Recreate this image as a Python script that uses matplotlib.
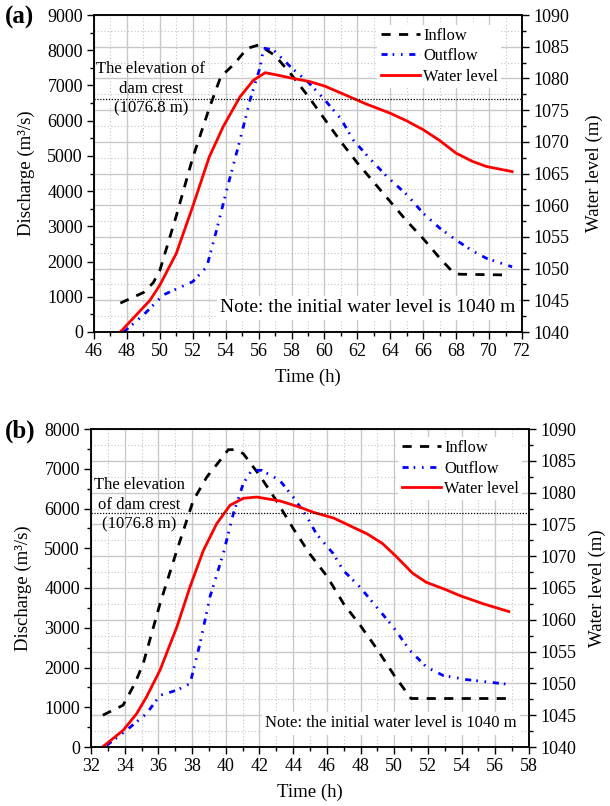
import matplotlib
matplotlib.use('Agg')
import matplotlib.pyplot as plt
from matplotlib.ticker import MultipleLocator

plt.rcParams['font.family'] = ['Liberation Serif', 'DejaVu Serif']

# ---------------- Panel (a) data ----------------
a_in_t = [47.6, 49.0, 49.6, 50.0, 51.0, 52.0, 53.0, 53.7, 54.5, 55.3, 56.0, 57.0, 58.0, 59.0,
          60.0, 61.0, 62.0, 63.0, 64.0, 65.0, 66.0, 67.0, 67.8, 68.2, 71.0]
a_in_q = [820, 1120, 1400, 1750, 3300, 4950, 6350, 7250, 7600, 8050, 8150, 7850, 7300, 6700,
          6050, 5400, 4800, 4250, 3700, 3150, 2650, 2100, 1700, 1640, 1620]

a_out_t = [47.8, 49.0, 50.2, 51.0, 52.0, 52.85, 53.45, 54.06, 54.87, 55.48, 56.1, 56.3, 56.9,
           58.0, 59.0, 60.0, 61.0, 61.75, 62.8, 63.8, 65.0, 66.0, 67.0, 68.0, 69.0, 69.85, 71.4]
a_out_q = [0, 480, 1050, 1220, 1430, 1850, 2900, 4030, 5450, 6590, 7530, 8060, 8010,
           7500, 7100, 6600, 6050, 5450, 4900, 4410, 3900, 3370, 2950, 2610, 2300, 2090, 1850]

a_wl_t = [47.6, 48.5, 49.4, 50.0, 51.0, 52.0, 53.0, 53.85, 54.87, 55.68, 56.4, 57.0, 57.9,
          59.1, 60.0, 61.35, 62.5, 64.0, 65.0, 66.0, 67.0, 68.0, 69.0, 69.85, 71.4]
a_wl_h = [1040.0, 1042.5, 1045.0, 1047.4, 1052.4, 1059.8, 1067.6, 1072.4, 1077.1, 1079.7,
          1080.9, 1080.6, 1080.1, 1079.5, 1078.8, 1077.3, 1076.0, 1074.5, 1073.3, 1071.9,
          1070.2, 1068.2, 1066.9, 1066.1, 1065.3]

# ---------------- Panel (b) data ----------------
b_in_t = [32.7, 33.9, 34.6, 35.1, 36.1, 37.1, 38.07, 38.87, 39.66, 40.15, 40.55, 41.04,
          42.0, 43.0, 44.0, 45.0, 46.0, 47.0, 48.0, 49.0, 50.0, 51.0, 56.8]
b_in_q = [800, 1050, 1595, 2100, 3610, 4950, 6200, 6790, 7210, 7480, 7480, 7380,
          6840, 6200, 5500, 4850, 4300, 3600, 3050, 2450, 1800, 1220, 1220]

b_out_t = [32.93, 34.1, 35.3, 36.1, 37.1, 37.88, 38.47, 39.06, 39.85, 40.45, 41.04, 41.54,
           42.13, 43.2, 44.0, 44.8, 45.4, 46.38, 46.97, 47.96, 49.94, 50.93, 51.92, 52.9,
           54.3, 56.77]
b_out_q = [40, 420, 840, 1300, 1430, 1595, 2600, 3774, 4865, 5870, 6630, 6960,
           6960, 6710, 6290, 5800, 5350, 4865, 4445, 4025, 3020, 2430, 2010, 1800,
           1695, 1577]

b_wl_t = [32.73, 33.9, 34.7, 35.3, 36.1, 37.1, 37.88, 38.67, 39.46, 40.25, 41.04, 41.83,
          43.2, 44.4, 45.2, 46.4, 47.2, 48.4, 49.3, 50.1, 51.1, 51.9, 53.0, 53.9, 55.3, 56.8]
b_wl_h = [1040.1, 1042.6, 1045.2, 1047.9, 1052.1, 1058.9, 1065.2, 1070.9, 1075.1, 1078.0,
          1079.1, 1079.3, 1078.7, 1077.7, 1076.9, 1076.0, 1075.0, 1073.5, 1072.0, 1070.0,
          1067.3, 1065.9, 1064.8, 1063.8, 1062.5, 1061.3]

dam_crest = 1076.8
labels = ['Inflow', 'Outflow', 'Water level']
note = 'Note: the initial water level is 1040 m'

fig = plt.figure(figsize=(6.1, 8.06), dpi=100)
W, H = 610, 806

GRID_MAJ = dict(color='#c8c8c8', lw=1.0, ls='-')
GRID_MIN = dict(color='#c4c4c4', lw=0.8, ls=(0, (1, 2)))


def panel(rect, xlim, ylim, ymaj, in_t, in_q, out_t, out_q, wl_t, wl_h,
          tag, crest_text, crest_xy, note_fs, note_xy, leg_anchor, rpad):
    l, t, r, b = rect
    pos = [l / W, 1 - b / H, (r - l) / W, (b - t) / H]
    # background grid axes (right-axis scale for horizontal grid)
    g = fig.add_axes(pos, zorder=0)
    g.set_xlim(*xlim)
    g.set_ylim(1040, 1090)
    g.xaxis.set_major_locator(MultipleLocator(2))
    g.xaxis.set_minor_locator(MultipleLocator(1))
    g.yaxis.set_major_locator(MultipleLocator(5))
    g.yaxis.set_minor_locator(MultipleLocator(2.5))
    g.grid(True, which='major', **GRID_MAJ)
    g.grid(True, which='minor', **GRID_MIN)
    g.tick_params(which='both', length=0, labelbottom=False, labelleft=False)
    for s in g.spines.values():
        s.set_visible(False)

    ax = fig.add_axes(pos, zorder=1)
    ax.patch.set_visible(False)
    ax.set_xlim(*xlim)
    ax.set_ylim(*ylim)
    ax.xaxis.set_major_locator(MultipleLocator(2))
    ax.xaxis.set_minor_locator(MultipleLocator(1))
    ax.yaxis.set_major_locator(MultipleLocator(ymaj))
    ax.yaxis.set_minor_locator(MultipleLocator(ymaj / 2))
    l1, = ax.plot(in_t, in_q, color='black', lw=2.0, dashes=(3.3, 3.0), label=labels[0])
    l2, = ax.plot(out_t, out_q, color='#0000ff', lw=2.0,
                  dashes=(2.2, 1.8, 0.6, 2.4, 0.6, 2.4), label=labels[1])
    ax.set_xlabel('Time (h)', fontsize=13.5, labelpad=6)
    ax.set_ylabel('Discharge (m³/s)', fontsize=13.5, labelpad=9)
    ax.tick_params(which='major', direction='out', length=5, width=1, labelsize=13, pad=3)
    ax.tick_params(which='minor', direction='out', length=3, width=1)
    ax.tick_params(top=False, right=False, which='both')
    for s in ax.spines.values():
        s.set_linewidth(1.1)

    ax2 = ax.twinx()
    ax2.set_ylim(1040, 1090)
    ax2.yaxis.set_major_locator(MultipleLocator(5))
    ax2.yaxis.set_minor_locator(MultipleLocator(2.5))
    l3, = ax2.plot(wl_t, wl_h, color='#ff0000', lw=2.0, label=labels[2])
    ax2.axhline(dam_crest, color='black', lw=0.9, ls=(0, (1, 1.3)))
    ax2.set_ylabel('Water level (m)', fontsize=13.5, labelpad=rpad)
    ax2.tick_params(which='major', direction='out', length=5, width=1, labelsize=13, pad=3)
    ax2.tick_params(which='minor', direction='out', length=3, width=1)
    for s in ax2.spines.values():
        s.set_linewidth(1.1)

    ax2.text(crest_xy[0], crest_xy[1], crest_text, transform=ax.transData,
             ha='center', va='center', fontsize=12, linespacing=1.32)
    ax2.text(note_xy[0], note_xy[1], note, transform=ax.transAxes, ha='right', va='center',
             fontsize=note_fs, zorder=10,
             bbox=dict(facecolor='white', edgecolor='none', pad=2.5))
    ax2.legend([l1, l2, l3], labels, loc='upper right', bbox_to_anchor=leg_anchor,
               frameon=True, fancybox=False, framealpha=1, edgecolor='none',
               facecolor='white', fontsize=11.8, handlelength=2.4, handletextpad=0.2,
               labelspacing=0.27, borderpad=0.2, borderaxespad=0)
    fig.text(5 / W, 1 - (t + 2) / H, tag, fontsize=18, fontweight='bold', ha='left', va='center')
    return ax, ax2


panel((94, 15, 522, 332), (46, 72), (0, 9000), 1000,
      a_in_t, a_in_q, a_out_t, a_out_q, a_wl_t, a_wl_h,
      '(a)', 'The elevation of\ndam crest\n(1076.8 m)', (49.46, 6900), 14,
      (0.985, 0.077), (0.952, 0.97), 12)

panel((91, 429, 529, 747), (32, 58), (0, 8000), 1000,
      b_in_t, b_in_q, b_out_t, b_out_q, b_wl_t, b_wl_h,
      '(b)', 'The elevation\nof dam crest\n(1076.8 m)', (34.88, 6100), 12,
      (0.972, 0.075), (0.985, 0.975), 9)

fig.savefig('out.png', dpi=100)
